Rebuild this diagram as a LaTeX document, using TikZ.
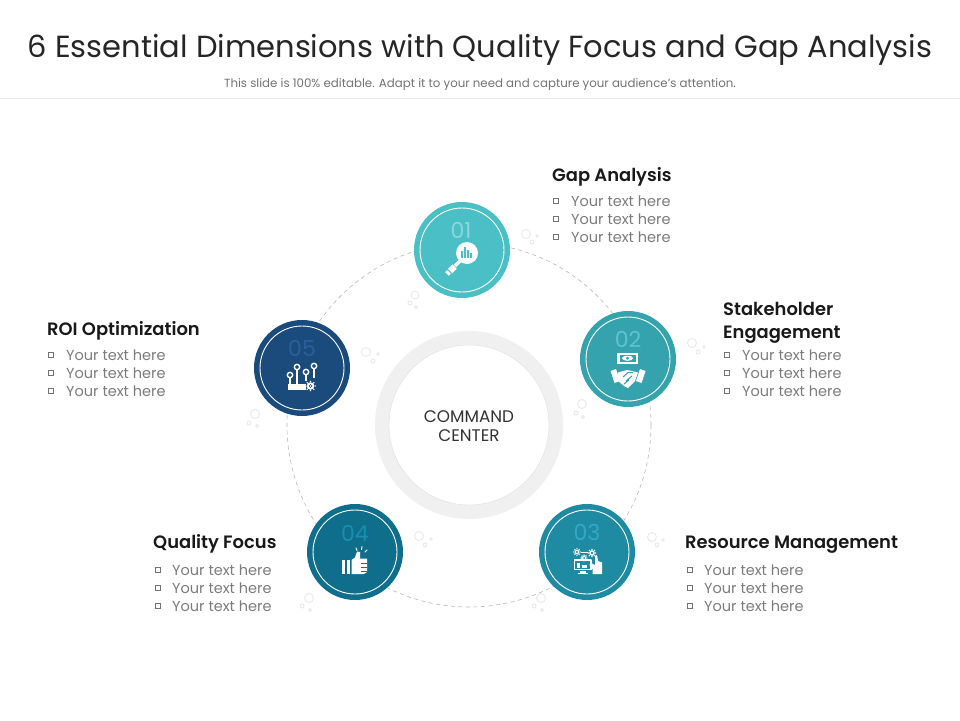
\documentclass[tikz,border=0pt]{standalone}
\usepackage{fontspec}
\setmainfont{Poppins}
\newfontfamily\headf{Poppins SemiBold}
\usetikzlibrary{calc}
\definecolor{cA}{HTML}{4BBFC6}\definecolor{cB}{HTML}{35A3AE}\definecolor{cC}{HTML}{1F8BA3}\definecolor{cD}{HTML}{0F6E8C}\definecolor{cE}{HTML}{1B4A7C}
\definecolor{nA}{HTML}{8DD6DA}\definecolor{nB}{HTML}{5FC3CE}\definecolor{nC}{HTML}{2FA9C8}\definecolor{nD}{HTML}{1A8DB0}\definecolor{nE}{HTML}{2B5F9A}
\definecolor{bub}{HTML}{E9E9E9}\definecolor{txt}{HTML}{7C7C7C}
\tikzset{
 disc/.style={circle,minimum size=96pt,inner sep=0pt,draw=none},
 numlab/.style={font=\fontsize{22}{22}\selectfont,inner sep=0pt},
 title/.style={anchor=base,inner sep=0pt,text=black!85,font=\fontsize{30.5}{32}\selectfont},
 sub/.style={anchor=base,inner sep=0pt,text=black!55,font=\fontsize{11.8}{13}\selectfont},
 head/.style={anchor=base west,inner sep=0pt,text=black!90,font=\headf\fontsize{17.9}{18}\selectfont},
 item/.style={anchor=base west,inner sep=0pt,text=txt,font=\fontsize{14.5}{16}\selectfont},
 sq/.style={draw=black!55,line width=.5pt,minimum size=5pt,inner sep=0pt,rectangle},
 il/.style={draw=white,line cap=round,line join=round},
}
\newcommand{\itemsat}[4]{% bullet x, text x, first baseline, name
 \foreach \k in {0,1,2}{
  \node[sq] (#4b\k) at (#1,#3-5+18*\k) {};
  \node[item] (#4t\k) at (#2,#3+18*\k) {Your text here};
 }}
\newcommand{\gearat}[4]{% x y r fill
 \fill[white] (#1,#2) circle (#3);
 \foreach \a in {0,45,...,315}{\fill[white] ($(#1,#2)+(\a:#3+.8)$) circle (.8);}
 \fill[#4] (#1,#2) circle (#3*.5);
}
\begin{document}
\begin{tikzpicture}[x=1pt,y=-1pt]
\useasboundingbox (0,0) rectangle (960,720);
\fill[white] (0,0) rectangle (960,720);
% header
\node[title] (t) at (480,57) {6 Essential Dimensions with Quality Focus and Gap Analysis};
\node[sub] (s) at (480,87) {This slide is 100\% editable. Adapt it to your need and capture your audience's attention.};
\coordinate (la) at (0,98); \coordinate (lb) at (960,98);
\draw[black!9,line width=.8pt] (la) -- (lb);
% centre
\node[circle,minimum size=174pt,inner sep=0pt,draw=black!6,line width=14pt,fill=white] (cc) at (469,425) {};
\node[circle,minimum size=160pt,inner sep=0pt,draw=black!12,line width=.4pt] (ci) at (469,425) {};
\node[align=center,inner sep=0pt,text=black!80,font=\fontsize{16.8}{19}\selectfont] (cl) at (469,426) {COMMAND\\CENTER};
% dashed ring
\draw[black!28,line width=.6pt,dash pattern=on 4pt off 3.5pt] (cc.center) circle (182);
% bubbles
\foreach \x/\y/\r in {415/295/4, 410/303/2, 416/307/1.5, 526/234/4.5, 532/242/2, 537/236/1.2,
 692/343/4.5, 698/352/2, 704/347/1.2, 582/404/4.5, 576/413/2, 583/417/1.5,
 652/537/4.5, 657/545/2, 663/540/1.2, 541/598/4.5, 534/606/2, 542/610/1.5,
 419/536/4.5, 425/545/2, 431/539/1.2, 309/598/4.5, 302/606/2, 310/610/1.5,
 366/352/4.5, 373/361/2, 378/354/1.2, 255/414/4.5, 249/423/2, 257/426/1.5}
 {\draw[bub,line width=.9pt] (\x,\y) circle (\r);}
% discs
\node[disc,fill=cA] (n1) at (462,250) {};
\node[disc,fill=cB] (n2) at (628,359) {};
\node[disc,fill=cC] (n3) at (587,552) {};
\node[disc,fill=cD] (n4) at (355,552) {};
\node[disc,fill=cE] (n5) at (302,368) {};
\foreach \n in {n1,n2,n3,n4,n5}{\draw[white,line width=.9pt] (\n.center) circle (42);}
\node[numlab,text=nA] (l1) at (461,230) {01};
\node[numlab,text=nB] (l2) at (628,339) {02};
\node[numlab,text=nC] (l3) at (587,532) {03};
\node[numlab,text=nD] (l4) at (355,533) {04};
\node[numlab,text=nE] (l5) at (302,348) {05};
% icon 1 magnifier
\fill[white] (467,253) circle (11);
\draw[il,line width=3.5pt,line cap=butt] (460,261) -- (455,266);
\draw[il,line width=6pt,line cap=butt] (454.5,266.5) -- (450,271);
\draw[il,line width=5pt,line cap=butt] (449,272) -- (447,274);
\draw[cA,line width=1.2pt] (462,258) -- (462,251) (465,258) -- (465,247) (468,258) -- (468,250) (471,258) -- (471,253);
% icon 2 banknote + handshake
\fill[white] (617,353) rectangle (638,363.5);
\fill[cB] (619.5,355) rectangle (635.5,361.5);
\fill[white] (627.5,358.2) ellipse (5.5 and 2.6);
\fill[cB] (627.5,358.2) circle (1.6);
\fill[white] (610.5,371) -- (616,369) -- (620,381) -- (614.5,383) -- cycle;
\fill[white] (645.5,371) -- (640,369) -- (636,381) -- (641.5,383) -- cycle;
\fill[white] (618,372.5) -- (627,370) -- (632,371) -- (638,372.5) -- (635,381) -- (628,388) -- (624,386) -- (618,381) -- cycle;
\draw[cB,line width=1pt] (623,377) -- (628,372.5) -- (633,372.5) (626,381) -- (632,376) (624,384) -- (629,380);
% icon 3 monitor, gears, hand
\draw[il,line width=1.3pt] (574.5,560) rectangle (591,569.5);
\fill[white] (580,571) rectangle (586,572.5);
\fill[white] (578,573) rectangle (588,574);
\fill[white] (577,563) rectangle (580,567.5);\fill[white] (582,564.5) rectangle (587,567.5);
\gearat{577}{552}{2.3}{cC}
\gearat{592}{553}{2.8}{cC}
\gearat{584}{558}{2}{cC}
\draw[white,line width=.7pt] (581,552) -- (588,552);
\fill[white] (592.5,574) -- (592.5,569) -- (589.5,565) -- (591,563) -- (595,565) -- (595,556) -- (597,555) -- (598,561) -- (602,562.5) -- (602,574) -- cycle;
% icon 4 thumb up
\fill[white] (342,560) rectangle (345,574);
\fill[white] (346.5,560) rectangle (350,574);
\fill[white] (351.5,560) -- (355,557.5) -- (357,551.5) -- (360,552) -- (360,558.5) -- (367,558.5) -- (367,572) -- (364,574) -- (351.5,574) -- cycle;
\draw[cD,line width=.7pt] (361,563) -- (367,563) (361,567) -- (367,567) (361,571) -- (367,571);
\draw[il,line width=1pt] (356,548) -- (357,550.5) (362,546.5) -- (361.5,549.5) (367,550) -- (365,552);
% icon 5 process
\foreach \x/\y in {290/375,297/367,306/372,314/366}{\draw[il,line width=1.4pt] (\x,\y) circle (2.7);}
\draw[il,line width=1.8pt,line cap=butt] (290,378) -- (290,388) (297,370) -- (297,388) (306,375) -- (306,381) (314,369) -- (314,378);
\fill[white] (288,384) rectangle (306,389.5);
\gearat{310.5}{386}{3.8}{cE}
\fill[white] (310.5,386) circle (.9);
% labels
\node[head] (h1) at (552,181) {Gap Analysis};
\itemsat{556}{571}{206}{a}
\node[head] (h2) at (723,315) {Stakeholder};
\node[head] (h2b) at (723,338) {Engagement};
\itemsat{727}{742}{360}{b}
\node[head] (h3) at (685,548) {Resource Management};
\itemsat{690}{704}{575}{c}
\node[head] (h4) at (153,548) {Quality Focus};
\itemsat{158}{172}{575}{d}
\node[head] (h5) at (47,335) {ROI Optimization};
\itemsat{51}{66}{360}{e}
\end{tikzpicture}
\end{document}
